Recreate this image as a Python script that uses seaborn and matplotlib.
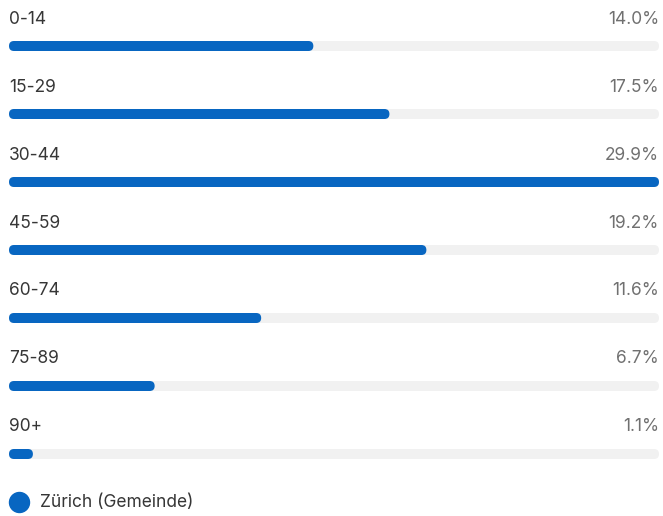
import matplotlib
matplotlib.use("Agg")
import matplotlib.pyplot as plt
from matplotlib.patches import FancyBboxPatch
import seaborn as sns
import pandas as pd

groups = ["0-14", "15-29", "30-44", "45-59", "60-74", "75-89", "90+"]
shares = [14.0, 17.5, 29.9, 19.2, 11.6, 6.7, 1.1]
series_name = "Zürich (Gemeinde)"

bar_color = "#0866c1"
track_color = "#f1f1f1"

sns.set_theme(style="white")
plt.rcParams["font.family"] = ["Inter", "DejaVu Sans"]

data = pd.DataFrame({"group": groups, "share": shares})
vmax = data["share"].max()
data["track"] = vmax

W, H = 663, 516
top = 46  # pixel centre of the first bar
fig = plt.figure(figsize=(W / 100, H / 100), dpi=100)
ax = fig.add_axes([9 / W, 0, 650 / W, 1])

bar_h = 10 / 68
sns.barplot(data=data, y="group", x="track", color=track_color, width=bar_h,
            orient="h", ax=ax, saturation=1)
sns.barplot(data=data, y="group", x="share", color=bar_color, width=bar_h,
            orient="h", ax=ax, saturation=1)

ax.set_xlim(0, vmax)
ax.set_ylim((H - top) / 68, -top / 68)

# px per data unit
px_x = 650 / vmax
px_y = 68
radius = 5 / px_x
for p in list(ax.patches):
    x, y = p.get_x(), p.get_y()
    w, h = p.get_width(), p.get_height()
    rounded = FancyBboxPatch((x, y), w, h,
                             boxstyle=f"round,pad=0,rounding_size={radius}",
                             mutation_aspect=px_x / px_y,
                             facecolor=p.get_facecolor(), edgecolor="none")
    p.remove()
    ax.add_patch(rounded)

label_off = 27 / 68
for i, (g, s) in enumerate(zip(groups, shares)):
    ax.text(0, i - label_off, g, ha="left", va="center", fontsize=12.5,
            color="#363636")
    ax.text(vmax, i - label_off, f"{s:.1f}%", ha="right", va="center",
            fontsize=12.5, color="#707070")

leg_y = (502 - top) / 68
ax.scatter([10 / px_x], [leg_y], s=20 ** 2 * 0.72 ** 2, color=bar_color,
           clip_on=False, zorder=3)
ax.text(31 / px_x, leg_y + 1 / 68, series_name, ha="left", va="center",
        fontsize=12.5, color="#363636")

ax.set_axis_off()
fig.savefig("out.png", dpi=100)
